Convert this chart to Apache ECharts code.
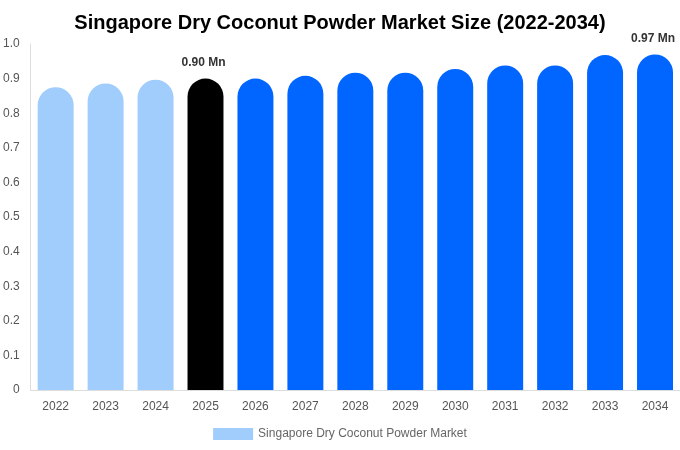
<!DOCTYPE html>
<html>
<head>
<meta charset="utf-8">
<script src="https://cdn.jsdelivr.net/npm/echarts@6/dist/echarts.min.js"></script>
<style>
  html, body { margin: 0; padding: 0; background: #fff; }
  #main { width: 680px; height: 450px; }
</style>
</head>
<body>
<div id="main"></div>
<script>
// data
var years = ['2022', '2023', '2024', '2025', '2026', '2027', '2028', '2029', '2030', '2031', '2032', '2033', '2034'];
var sizes = [0.875, 0.886, 0.897, 0.90, 0.90, 0.908, 0.917, 0.917, 0.928, 0.938, 0.938, 0.968, 0.97];
var yTicks = [0, 0.1, 0.2, 0.3, 0.4, 0.5, 0.6, 0.7, 0.8, 0.9, 1.0];
var labelled = ['2025', '2034'];

var pastColor = '#a1cdfd';
var nowColor = '#000000';
var futureColor = '#0066ff';

function barColor(year) {
    if (year < '2025') return pastColor;
    if (year === '2025') return nowColor;
    return futureColor;
}

var chart = echarts.init(document.getElementById('main'));

var bars = years.map(function (y, i) {
    var item = {
        value: sizes[i],
        itemStyle: { color: barColor(y) }
    };
    if (labelled.indexOf(y) >= 0) {
        item.label = {
            show: true,
            position: 'top',
            distance: 10,
            offset: [-2, 0],
            formatter: function (p) { return p.value.toFixed(2) + ' Mn'; },
            color: '#333',
            fontWeight: 'bold',
            fontSize: 12
        };
    }
    return item;
});

var option = {
    backgroundColor: '#fff',
    textStyle: { fontFamily: 'Liberation Sans, Arial, sans-serif' },
    title: {
        text: 'Singapore Dry Coconut Powder Market Size (2022-2034)',
        left: 'center',
        top: 8,
        textStyle: { fontSize: 20, fontWeight: 'bold', color: '#000' }
    },
    legend: {
        bottom: 5,
        left: 'center',
        itemWidth: 40,
        itemHeight: 12,
        icon: 'rect',
        textStyle: { color: '#666', fontSize: 12 },
        data: ['Singapore Dry Coconut Powder Market']
    },
    grid: { left: 30, right: 0, top: 44, bottom: 60 },
    xAxis: {
        type: 'category',
        data: years,
        axisTick: { show: false },
        axisLine: { lineStyle: { color: '#ddd' } },
        axisLabel: { color: '#555', fontSize: 12, margin: 11 }
    },
    yAxis: {
        type: 'value',
        min: 0,
        max: 1.0,
        interval: 0.1,
        splitLine: { show: false },
        axisLine: { show: true, lineStyle: { color: '#ddd' } },
        axisLabel: {
            color: '#555',
            fontSize: 12,
            margin: 11,
            formatter: function (v) {
                var t = yTicks.filter(function (k) { return Math.abs(k - v) < 1e-9; })[0];
                if (t === undefined) return '';
                return t === 0 ? '0' : t.toFixed(1);
            }
        }
    },
    series: [{
        name: 'Singapore Dry Coconut Powder Market',
        type: 'bar',
        barWidth: '72%',
        itemStyle: { color: pastColor, borderRadius: [18, 18, 0, 0] },
        data: bars
    }]
};

chart.setOption(option);
</script>
</body>
</html>
